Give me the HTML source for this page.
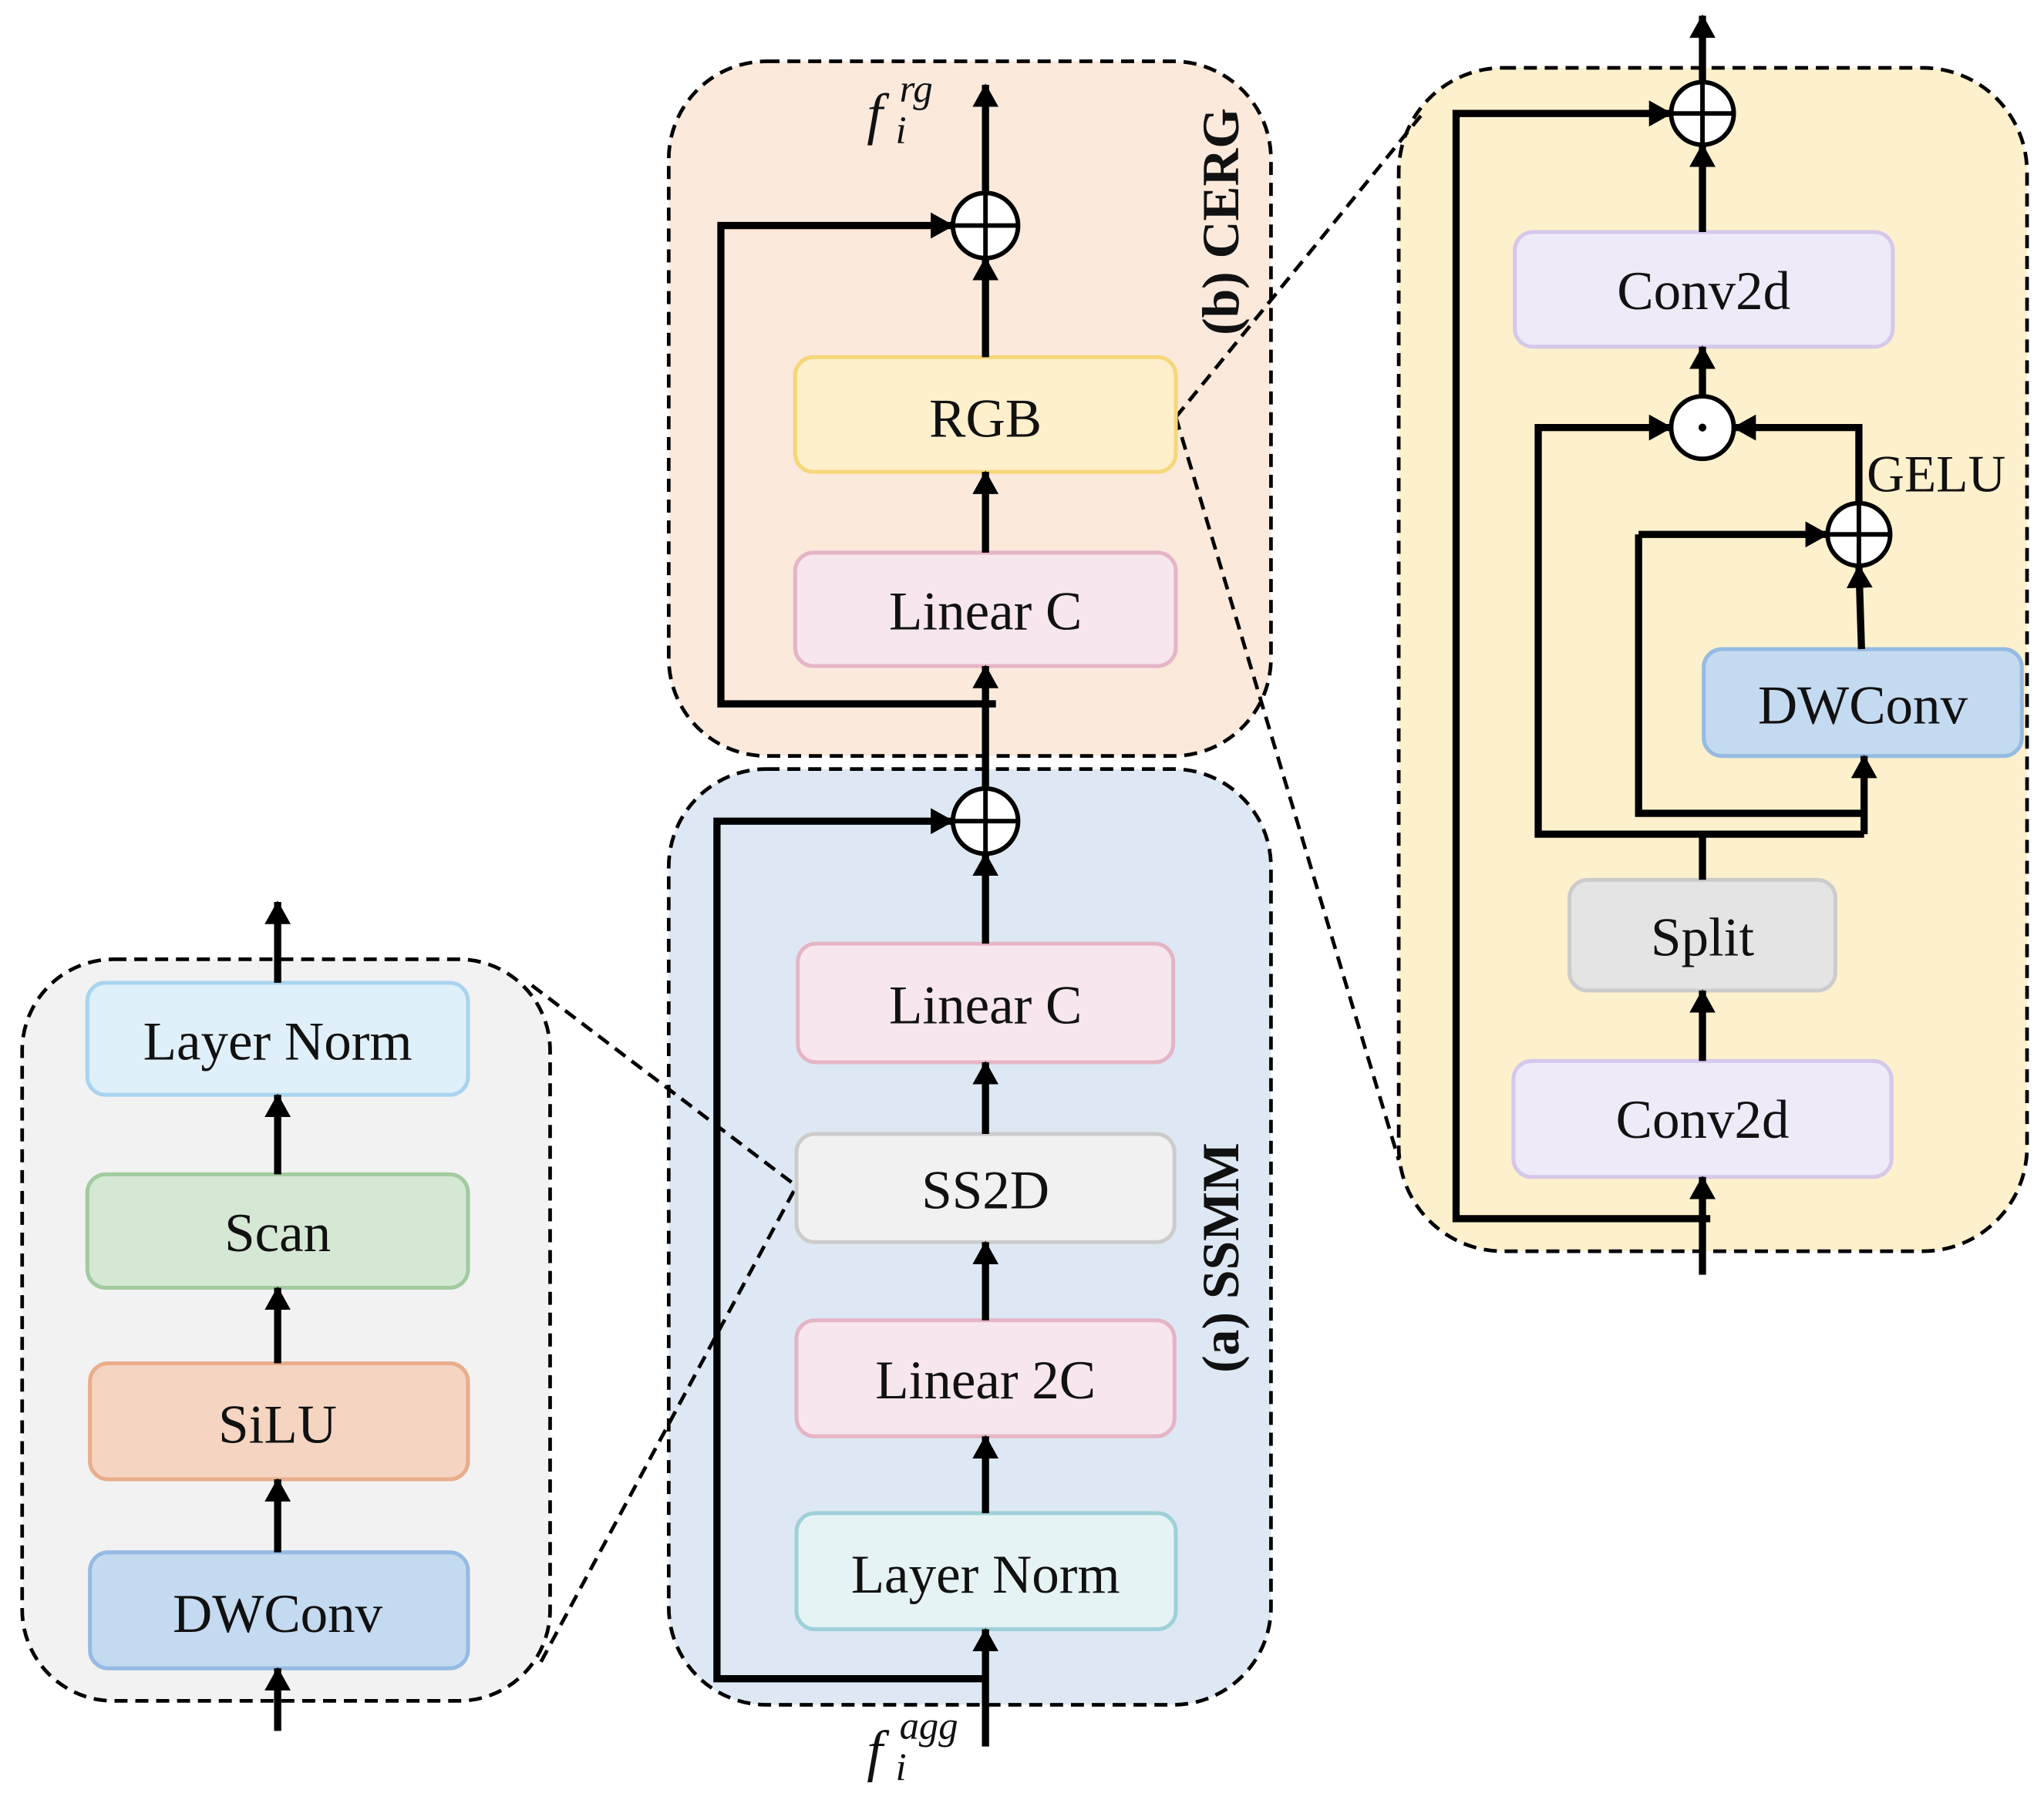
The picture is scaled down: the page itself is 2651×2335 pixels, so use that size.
<!DOCTYPE html>
<html><head><meta charset="utf-8"><style>
html,body{margin:0;padding:0;background:#fff;}
svg{display:block;}
text{font-family:"Liberation Serif",serif;}
</style></head><body>
<svg width="2651" height="2335" viewBox="0 0 1568 1381" xmlns="http://www.w3.org/2000/svg">
<defs>
<marker id="a" markerUnits="userSpaceOnUse" markerWidth="24" markerHeight="24" refX="17" refY="10" orient="auto">
<path d="M0,0 L18,10 L0,20 Z" fill="#000"/></marker>
</defs>
<g stroke="#000" stroke-width="2.8" stroke-dasharray="10,6">
<rect x="513" y="47" width="462" height="533" rx="75" fill="#fbe9dc"/>
<rect x="513" y="590" width="462" height="718" rx="75" fill="#dde8f4"/>
<rect x="17" y="736" width="405" height="569" rx="70" fill="#f2f2f2"/>
<rect x="1073" y="52" width="482" height="908" rx="80" fill="#fdf0cc"/>
<line x1="408" y1="756" x2="611" y2="910" fill="none"/>
<line x1="415" y1="1275" x2="611" y2="910" fill="none"/>
<line x1="902" y1="320" x2="1093" y2="85" fill="none"/>
<line x1="902" y1="320" x2="1073" y2="890" fill="none"/>
</g>
<g stroke-width="3">
<rect x="610" y="274" width="292" height="88" rx="14" fill="#fef0cc" stroke="#f5d77a"/>
<rect x="610" y="424" width="292" height="87" rx="14" fill="#f7e6ee" stroke="#e5b5c5"/>
<rect x="612" y="724" width="288" height="91" rx="14" fill="#f7e6ee" stroke="#e5b5c5"/>
<rect x="611" y="870" width="290" height="83" rx="14" fill="#f1f1f1" stroke="#cccccc"/>
<rect x="611" y="1013" width="290" height="89" rx="14" fill="#f7e6ee" stroke="#e5b5c5"/>
<rect x="611" y="1161" width="291" height="89" rx="14" fill="#e6f3f5" stroke="#9fd0d8"/>
<rect x="67" y="754" width="292" height="86" rx="14" fill="#dff0fa" stroke="#a8d4ee"/>
<rect x="67" y="901" width="292" height="87" rx="14" fill="#d5e8d4" stroke="#a2cb9f"/>
<rect x="69" y="1046" width="290" height="89" rx="14" fill="#f5d5c2" stroke="#e8ae8c"/>
<rect x="69" y="1191" width="290" height="89" rx="14" fill="#c4daf0" stroke="#95bbe3"/>
<rect x="1162" y="178" width="290" height="88" rx="14" fill="#eeeaf8" stroke="#d6c8ea"/>
<rect x="1307" y="498" width="244" height="82" rx="14" fill="#c4daf0" stroke="#95bbe3"/>
<rect x="1204" y="675" width="204" height="85" rx="14" fill="#e4e4e4" stroke="#cccccc"/>
<rect x="1161" y="814" width="290" height="89" rx="14" fill="#eeeaf8" stroke="#d6c8ea"/>
</g>
<g fill="none" stroke="#000" stroke-width="5.5">
<line x1="756" y1="148" x2="756" y2="65" marker-end="url(#a)"/>
<line x1="756" y1="274" x2="756" y2="198" marker-end="url(#a)"/>
<line x1="756" y1="424" x2="756" y2="362" marker-end="url(#a)"/>
<line x1="756" y1="605" x2="756" y2="511" marker-end="url(#a)"/>
<polyline points="764,540 553,540 553,173 731,173" marker-end="url(#a)"/>
<line x1="756" y1="724" x2="756" y2="655" marker-end="url(#a)"/>
<line x1="756" y1="870" x2="756" y2="815" marker-end="url(#a)"/>
<line x1="756" y1="1013" x2="756" y2="953" marker-end="url(#a)"/>
<line x1="756" y1="1161" x2="756" y2="1102" marker-end="url(#a)"/>
<line x1="756" y1="1340" x2="756" y2="1250" marker-end="url(#a)"/>
<polyline points="756,1288 550,1288 550,630 731,630" marker-end="url(#a)"/>
<line x1="213" y1="754" x2="213" y2="692" marker-end="url(#a)"/>
<line x1="213" y1="901" x2="213" y2="840" marker-end="url(#a)"/>
<line x1="213" y1="1046" x2="213" y2="988" marker-end="url(#a)"/>
<line x1="213" y1="1191" x2="213" y2="1135" marker-end="url(#a)"/>
<line x1="213" y1="1328" x2="213" y2="1280" marker-end="url(#a)"/>
<line x1="1306" y1="63" x2="1306" y2="12" marker-end="url(#a)"/>
<line x1="1306" y1="178" x2="1306" y2="111" marker-end="url(#a)"/>
<polyline points="1312,935 1117,935 1117,87 1282,87" marker-end="url(#a)"/>
<line x1="1306" y1="978" x2="1306" y2="903" marker-end="url(#a)"/>
<line x1="1306" y1="814" x2="1306" y2="760" marker-end="url(#a)"/>
<line x1="1306" y1="675" x2="1306" y2="640"/>
<polyline points="1430,640 1180,640 1180,328 1282,328" marker-end="url(#a)"/>
<polyline points="1257,410 1257,624 1430,624"/>
<line x1="1257" y1="410" x2="1402" y2="410" marker-end="url(#a)"/>
<line x1="1430" y1="640" x2="1430" y2="580" marker-end="url(#a)"/>
<line x1="1428" y1="498" x2="1426" y2="434" marker-end="url(#a)"/>
<polyline points="1426,386 1426,328 1330,328" marker-end="url(#a)"/>
<line x1="1306" y1="304" x2="1306" y2="266" marker-end="url(#a)"/>
</g>
<g fill="#fff" stroke="#000" stroke-width="3.5">
<circle cx="756" cy="173" r="25"/>
<circle cx="756" cy="630" r="25"/>
<circle cx="1306" cy="87" r="24"/>
<circle cx="1306" cy="328" r="24"/>
<circle cx="1426" cy="410" r="24"/>
</g>
<g stroke="#000" stroke-width="3.5">
<path d="M731,173 H781 M756,148 V198"/>
<path d="M731,630 H781 M756,605 V655"/>
<path d="M1282,87 H1330 M1306,63 V111"/>
<path d="M1402,410 H1450 M1426,386 V434"/>
</g>
<circle cx="1306" cy="328" r="3" fill="#000"/>
<g font-size="42" text-anchor="middle" fill="#111">
<text x="756" y="335">RGB</text>
<text x="756" y="483">Linear C</text>
<text x="756" y="785">Linear C</text>
<text x="756" y="927">SS2D</text>
<text x="756" y="1073">Linear 2C</text>
<text x="756" y="1222">Layer Norm</text>
<text x="213" y="813">Layer Norm</text>
<text x="213" y="960">Scan</text>
<text x="213" y="1107">SiLU</text>
<text x="213" y="1252">DWConv</text>
<text x="1307" y="237">Conv2d</text>
<text x="1429" y="555">DWConv</text>
<text x="1306" y="733">Split</text>
<text x="1306" y="873">Conv2d</text>
</g>
<text x="1432" y="377" font-size="40" fill="#111">GELU</text>
<g font-size="40" font-weight="bold" fill="#111" text-anchor="middle">
<text transform="translate(950,170) rotate(-90)">(b) CERG</text>
<text transform="translate(950,965) rotate(-90)">(a) SSMM</text>
</g>
<g font-style="italic" fill="#111">
<text x="665" y="102" font-size="44">f</text>
<text x="687" y="110" font-size="30">i</text>
<text x="690" y="78" font-size="30">rg</text>
<text x="665" y="1358" font-size="44">f</text>
<text x="687" y="1366" font-size="30">i</text>
<text x="690" y="1334" font-size="30">agg</text>
</g>
</svg>
</body></html>
